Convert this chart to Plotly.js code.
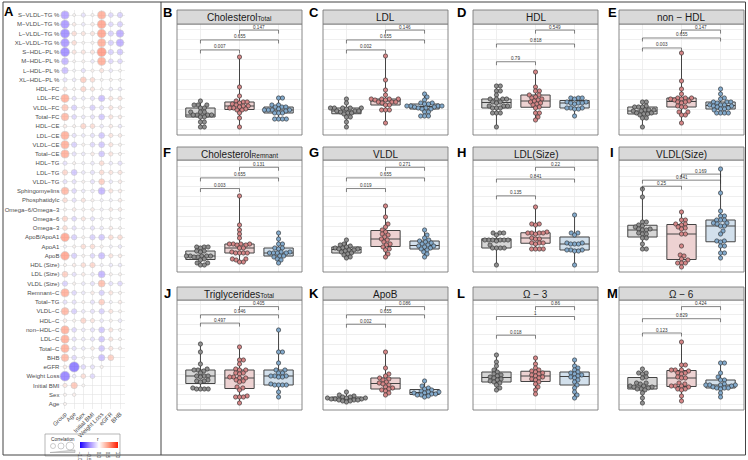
<!DOCTYPE html>
<html><head><meta charset="utf-8">
<script src="https://cdn.plot.ly/plotly-3.0.1.min.js"></script>
<style>body{margin:0;padding:0;background:#fff}#chart{width:748px;height:460px}</style>
</head><body><div id="chart"></div>
<script>
// ---------------- DATA ----------------
const rowLabels = ['S−VLDL−TG %','M−VLDL−TG %','L−VLDL−TG %','XL−VLDL−TG %','S−HDL−PL %','M−HDL−PL %','L−HDL−PL %','XL−HDL−PL %',
 'HDL−FC','LDL−FC','VLDL−FC','Total−FC','HDL−CE','LDL−CE','VLDL−CE','Total−CE','HDL−TG','LDL−TG','VLDL−TG','Sphingomyelins',
 'Phosphatidylc','Omega−6/Omega−3','Omega−6','Omega−3','ApoB/ApoA1','ApoA1','ApoB','HDL (Size)','LDL (Size)','VLDL (Size)',
 'Remnant−C','Total−TG','VLDL−C','HDL−C','non−HDL−C','LDL−C','Total−C','BHB','eGFR','Weight Loss','Initial BMI','Sex','Age'];
const colLabels = ['Group','Age','Sex','Initial BMI','Weight Loss','eGFR','BHB'];
const corrGroup = [-0.5,-0.55,-0.6,-0.55,-0.6,-0.4,-0.35,-0.15,0.15,0.5,0.35,0.45,0.1,0.5,0.5,0.5,-0.15,0.25,-0.15,0.45,0.2,0.05,0.25,0.2,0.55,-0.05,0.55,0.05,0.3,-0.25,0.5,-0.15,0.45,0.1,0.5,0.5,0.5,0.45,0.1,-0.65,0.15,0.05,0.05];
const corrAge = [0.03,0.1,0.2,0.2,0.15,0.03,-0.03,-0.1,0.05,-0.15,-0.25,-0.2,0.05,-0.15,-0.25,-0.15,0.05,-0.3,-0.15,-0.2,-0.15,0.1,-0.2,-0.15,-0.25,0.05,-0.25,0.1,-0.15,0.05,-0.2,-0.15,-0.25,0.05,-0.2,-0.15,-0.15,-0.2,-0.7,-0.1,0.35,0.08,null];
const corrSex = [-0.15,-0.1,0.15,0.03,0.15,0.05,-0.15,0.3,0.25,-0.1,0.05,-0.1,0.25,-0.1,0.05,-0.1,-0.05,-0.1,0.05,-0.1,0.15,0.05,0.15,-0.05,0.05,0.2,0.05,0.2,0.1,-0.1,-0.1,0.05,-0.1,0.25,-0.1,-0.1,-0.1,0.03,-0.2,0.2,0.03,null,null];
const corrBMI = [0.05,0.1,0.15,0.05,0.15,-0.1,0.05,0.2,0.15,-0.15,-0.25,-0.15,0.2,-0.15,-0.2,0.1,-0.1,-0.15,-0.15,-0.1,0.05,0.1,-0.15,-0.15,-0.25,0.2,-0.2,0.25,-0.1,-0.15,0.1,-0.15,-0.15,0.15,-0.15,-0.15,0.1,0.02,-0.15,-0.2,null,null,null];
const corrWL = [0.5,0.55,0.55,0.5,0.6,0.5,0.15,0.03,0.03,-0.35,-0.15,-0.3,-0.1,-0.3,-0.3,-0.3,0.2,0.2,0.3,-0.4,-0.05,-0.05,-0.05,-0.1,-0.3,0.05,-0.35,-0.05,-0.4,0.4,-0.25,0.3,-0.25,-0.1,-0.3,-0.3,-0.3,-0.35,0.05,null,null,null,null];
const corrEGFR = [-0.2,-0.2,-0.25,-0.25,-0.25,-0.2,-0.1,0.05,-0.1,0.15,0.15,0.15,0.1,0.15,0.15,0.15,-0.1,0.15,-0.1,0.15,-0.05,0.1,0.05,0.1,0.2,-0.05,0.15,-0.1,0.05,-0.15,0.15,-0.05,0.15,0.05,0.15,0.15,0.15,0.3,null,null,null,null,null];
const corrBHB = [-0.25,-0.25,-0.45,-0.45,-0.3,-0.2,0.03,0.03,-0.1,0.15,0.1,0.1,-0.1,0.1,0.05,0.05,-0.15,0.15,0.1,0.1,0.1,0.1,-0.03,0.03,0.2,-0.1,0.1,-0.1,0.05,-0.2,0.05,0.1,0.05,-0.1,0.05,0.05,0.05,null,null,null,null,null,null];

const groupNames = ['Control','Group 2','Group 3'];
// Box-panel values (arbitrary units, no axis labels in the original)
const B_gray = [34,30,30,30,27,27,23,23,23,20,20,20,20,18,18,13,13,8,8];
const B_pink = [78,48,39,34,33,33,32,31,30,29,29,28,27,27,26,25,25,22,17,8];
const B_blue = [37,37,30,30,28,28,28,26,25,25,25,25,24,22,22,22,16,16,16,16];
const C_gray = [36,32,27,27,27,27,27,26,24,24,24,23,22,22,21,18,18,13,8];
const C_pink = [79,55,45,40,36,36,36,36,35,35,33,33,33,32,30,30,25,25,25,12];
const C_blue = [41,38,35,32,32,31,31,29,29,29,29,28,28,27,27,26,26,23,23,19,19,19];
const D_gray = [49,49,44,44,40,36,36,36,36,33,33,32,29,29,29,27,27,27,22,22,22,8];
const D_pink = [63,48,44,44,40,40,38,37,36,35,34,33,32,31,30,28,27,22,22,18,15];
const D_blue = [37,37,37,36,33,33,32,32,32,31,27,27,27,26,26,19];
const E_gray = [33,33,29,28,28,28,25,25,25,24,24,22,22,21,21,20,17,17,8];
const E_pink = [82,54,46,41,37,37,37,36,36,35,34,33,33,32,29,28,28,23,23,20,20,12];
const E_blue = [46,41,37,36,33,33,33,32,30,30,30,29,29,28,27,26,26,25,22,22,22,22];
const F_gray = [25,25,25,24,21,21,20,16,16,16,16,16,15,15,13,12,9,9,7,7];
const F_pink = [76,47,42,38,34,28,28,28,28,27,27,24,24,20,19,19,19,19,13,13,12,10,10];
const F_blue = [39,33,28,28,24,24,23,20,20,19,19,19,19,16,16,15,13,12,9];
const G_gray = [32,28,27,26,25,24,24,23,23,22,22,21,20,19,18,17,15,14];
const G_pink = [66,55,48,45,42,40,38,37,35,33,32,30,28,27,25,23,22,18,15];
const G_blue = [42,37,34,32,31,30,29,28,27,26,26,25,24,23,22,20,18,15];
const H_gray = [39,39,39,37,32,32,32,32,32,32,31,27,24,24,24,24,7];
const H_pink = [65,48,48,47,40,39,39,39,39,38,34,33,33,29,29,29,28,23,23,23,23];
const H_blue = [57,39,39,37,29,29,28,28,28,22,22,22,21,21,7];
const I_gray = [83,75,50,50,47,46,45,43,43,42,42,39,38,38,34,34,28,23,23];
const I_pink = [60,52,52,48,48,47,45,44,43,38,38,26,17,16,13,12,9,9,9,5];
const I_blue = [103,79,61,56,56,52,52,52,49,49,48,46,46,41,38,31,31,30,26,26,19,19,14];
const J_gray = [66,58,46,41,40,40,39,37,34,34,34,33,30,29,29,28,22,21,21,21,21];
const J_pink = [63,50,50,46,41,40,40,37,37,36,33,33,32,32,30,29,28,23,22,20,14,13,13,13,7];
const J_blue = [80,58,58,47,40,40,37,37,34,34,34,33,33,26,25,25,25,25,18,13];
const K_gray = [18,15,14,13,13,12,12,12,11,11,11,10,10,10,9,9,8];
const K_pink = [58,42,36,34,32,31,30,28,27,26,25,23,22,21,20,19,17,15];
const K_blue = [29,24,22,21,20,19,18,18,17,17,16,16,15,15,14,13];
const L_gray = [55,48,44,40,38,36,35,34,33,32,31,30,29,28,27,25,22,20];
const L_pink = [52,46,42,40,39,38,37,36,35,34,33,32,31,30,28,26,23,20,16];
const L_blue = [50,44,42,40,38,37,36,35,34,33,32,30,28,25,22,18,15,12];
const M_gray = [41,37,37,36,33,32,27,27,26,24,24,23,23,22,21,21,20,17,12,7];
const M_pink = [68,45,45,40,40,40,39,37,37,36,33,32,32,27,26,24,24,24,23,21,21,20,14,9];
const M_blue = [47,47,37,33,30,30,26,25,25,25,25,24,23,22,22,22,21,17,13];

const panelTitles = ['Cholesterol<span style="font-size:6.5px">Total</span>','LDL','HDL','non − HDL',
  'Cholesterol<span style="font-size:6.5px">Remnant</span>','VLDL','LDL(Size)','VLDL(Size)',
  'Triglycerides<span style="font-size:6.5px">Total</span>','ApoB','Ω − 3','Ω − 6'];
const panelLetters = ['B','C','D','E','F','G','H','I','J','K','L','M'];
// p-values: [1 vs 2, 1 vs 3, 2 vs 3]
const pB = ['0.007','0.655','0.147'];
const pC = ['0.002','0.655','0.146'];
const pD = ['0.79','0.818','0.549'];
const pE = ['0.003','0.655','0.147'];
const pF = ['0.003','0.655','0.131'];
const pG = ['0.019','0.655','0.271'];
const pH = ['0.135','0.841','0.22'];
const pI = ['0.25','0.841','0.169'];
const pJ = ['0.497','0.946','0.405'];
const pK = ['0.002','0.655','0.086'];
const pL = ['0.018','1','0.86'];
const pM = ['0.123','0.829','0.424'];

// ---------------- LAYOUT / STYLE ----------------
const W = 748, H = 460;
const PX = v => v / W, PY = v => 1 - v / H;
const FONT = '"Liberation Sans", Arial, Helvetica, sans-serif';
const panelData = [[B_gray,B_pink,B_blue],[C_gray,C_pink,C_blue],[D_gray,D_pink,D_blue],[E_gray,E_pink,E_blue],
  [F_gray,F_pink,F_blue],[G_gray,G_pink,G_blue],[H_gray,H_pink,H_blue],[I_gray,I_pink,I_blue],
  [J_gray,J_pink,J_blue],[K_gray,K_pink,K_blue],[L_gray,L_pink,L_blue],[M_gray,M_pink,M_blue]];
const panelP = [pB,pC,pD,pE,pF,pG,pH,pI,pJ,pK,pL,pM];
const bracketFrac = [[.766,.856,.945],[.766,.856,.945],[.66,.82,.945],[.784,.874,.945],
  [.745,.84,.935],[.745,.84,.935],[.68,.83,.935],[.766,.82,.874],
  [.79,.865,.94],[.78,.865,.94],[.68,.85,.94],[.70,.83,.94]];
const colX = [177,323,473,619], colW = 125;
const rowsG = [{st:10,top:24,bot:135},{st:147,top:160,bot:272},{st:287,top:300,bot:410}];
const letterX = [167,314,461,612], letterY = [12.5,152.5,293];
const ptFill = ['#8f8f8f','#d48586','#82a9cb'];
const boxFill = ['#d6d6d6','#edd2d2','#d2e0ec'];

function swarm(vals, d, pxPerUnit) {
  const idx = vals.map((v,i)=>i).sort((a,b)=>vals[a]-vals[b]);
  const placed = [], out = new Array(vals.length);
  for (const i of idx) {
    const y = vals[i];
    const c = [0];
    for (const p of placed) {
      const dy = Math.abs(p.y - y);
      if (dy < d) { const dx = Math.sqrt(d*d - dy*dy); c.push(p.x + dx, p.x - dx); }
    }
    c.sort((a,b)=>Math.abs(a)-Math.abs(b) || b-a);
    let ch = 0;
    for (const x of c) { if (placed.every(p => Math.hypot(p.x-x, p.y-y) >= d - 1e-6)) { ch = x; break; } }
    placed.push({x:ch, y}); out[i] = ch / pxPerUnit;
  }
  return out;
}

const traces = [];
const shapes = [];
const annotations = [];
const layout = {
  width: W, height: H, margin: {l:0,r:0,t:0,b:0},
  paper_bgcolor: '#ffffff', plot_bgcolor: '#ffffff',
  showlegend: false, boxmode: 'overlay',
  font: {family: FONT, color: '#333'},
};

// ---- Panel A: correlation bubble matrix ----
const corrCols = [corrGroup, corrAge, corrSex, corrBMI, corrWL, corrEGFR, corrBHB];
const ax = [], ay = [], ar = [], as = [];
corrCols.forEach((col, ci) => col.forEach((r, ri) => {
  if (r === null) return;
  ax.push(ci); ay.push(ri); ar.push(r); as.push(2.6 + 11 * Math.abs(r));
}));
const cscale = [[0,'#1a00ff'],[0.25,'#a08aff'],[0.5,'#ffffff'],[0.75,'#ff9a80'],[1,'#ff1a00']];
traces.push({
  type: 'scatter', mode: 'markers', x: ax, y: ay, xaxis: 'x', yaxis: 'y', hoverinfo: 'skip', cliponaxis: false,
  marker: {size: as, color: ar, cmin: -1, cmax: 1, colorscale: cscale,
    line: {color: '#b8b8b8', width: 0.6}, showscale: true,
    colorbar: {orientation: 'h', x: PX(99), xanchor: 'center', y: PY(442), yanchor: 'top',
      len: 38, lenmode: 'pixels', thickness: 6, thicknessmode: 'pixels', xpad: 0, ypad: 0,
      outlinewidth: 0, tickvals: [-1,-0.5,0,0.5,1], ticktext: ['−1.0','−0.5','0.0','0.5','1.0'],
      tickfont: {size: 4.5, color: '#333', family: FONT}, ticks: ''}}
});
layout.xaxis = {domain: [PX(60.4), PX(124.6)], range: [-0.5, 6.5], tickvals: [0,1,2,3,4,5,6], ticktext: colLabels,
  tickangle: -45, tickfont: {size: 6, color: '#4d4d4d', family: FONT}, showgrid: true, gridcolor: '#e3e3e3', gridwidth: 0.6,
  zeroline: false, showline: false, ticks: '', fixedrange: true, anchor: 'y'};
layout.yaxis = {domain: [PY(408.6), PY(10.4)], range: [42.5, -0.5], tickvals: rowLabels.map((_,i)=>i), ticktext: rowLabels,
  tickfont: {size: 6, color: '#4d4d4d', family: FONT}, showgrid: true, gridcolor: '#e3e3e3', gridwidth: 0.6,
  zeroline: false, showline: false, ticks: '', fixedrange: true, anchor: 'x'};
annotations.push({xref:'paper', yref:'paper', x: PX(9), y: PY(12), text: '<b>A</b>', showarrow: false,
  font: {size: 13, color: '#000', family: FONT}, xanchor: 'center', yanchor: 'middle'});
// legend of panel A
shapes.push({type:'rect', xref:'paper', yref:'paper', x0: PX(45), x1: PX(120), y0: PY(434), y1: PY(456),
  line: {color: '#999', width: 0.7}, fillcolor: 'rgba(0,0,0,0)'});
annotations.push({xref:'paper', yref:'paper', x: PX(63), y: PY(439), text: 'Correlation', showarrow: false,
  font: {size: 4.8, color: '#333', family: FONT}, xanchor: 'center', yanchor: 'middle'});
annotations.push({xref:'paper', yref:'paper', x: PX(98), y: PY(438.5), text: 'r', showarrow: false,
  font: {size: 5, color: '#333', family: FONT}, xanchor: 'center', yanchor: 'middle'});
[[53,2.5],[61,3],[70,4]].forEach(([cx, r]) => shapes.push({type:'circle', xref:'paper', yref:'paper',
  x0: PX(cx-r), x1: PX(cx+r), y0: PY(446+r), y1: PY(446-r), line: {color:'#aaa', width: 0.6}, fillcolor: '#fff'}));
shapes.push({type:'path', xref:'paper', yref:'paper',
  path: `M ${PX(50)} ${PY(452.5)} L ${PX(75)} ${PY(452.5)} L ${PX(75)} ${PY(450)} Z`,
  line: {color: '#999', width: 0.5}, fillcolor: '#d9d9d9'});

// ---- Box panels ----
panelData.forEach((groups, k) => {
  const n = k + 2;
  const ci = k % 4, ri = Math.floor(k / 4);
  const g = rowsG[ri];
  const x0 = colX[ci], x1 = colX[ci] + colW;
  const h = g.bot - g.top;
  const ppu = colW / 3.2;
  layout['xaxis' + n] = {domain: [PX(x0), PX(x1)], range: [-0.6, 2.6], anchor: 'y' + n, tickvals: [0,1,2],
    showticklabels: false, ticks: '', showgrid: true, gridcolor: '#ebebeb', gridwidth: 0.8, zeroline: false,
    showline: false, fixedrange: true};
  layout['yaxis' + n] = {domain: [PY(g.bot), PY(g.top)], range: [0, h], anchor: 'x' + n, tick0: 6, dtick: 10,
    showticklabels: false, ticks: '', showgrid: true, gridcolor: '#ebebeb', gridwidth: 0.8, zeroline: false,
    showline: false, fixedrange: true};
  groups.forEach((vals, gi) => {
    traces.push({type: 'box', y: vals, x0: gi, width: 0.75, xaxis: 'x' + n, yaxis: 'y' + n, name: groupNames[gi],
      fillcolor: boxFill[gi], line: {color: '#444', width: 1}, boxpoints: false, whiskerwidth: 0, hoverinfo: 'skip'});
  });
  groups.forEach((vals, gi) => {
    const off = swarm(vals, 3.9, ppu);
    traces.push({type: 'scatter', mode: 'markers', x: off.map(o => o + gi), y: vals, xaxis: 'x' + n, yaxis: 'y' + n,
      cliponaxis: false, hoverinfo: 'skip',
      marker: {size: 4.3, color: ptFill[gi], line: {color: '#2b2b2b', width: 0.6}}});
  });
  // panel border & strip
  shapes.push({type: 'rect', xref: 'paper', yref: 'paper', x0: PX(x0), x1: PX(x1), y0: PY(g.bot), y1: PY(g.top),
    line: {color: '#7a7a7a', width: 0.9}, fillcolor: 'rgba(0,0,0,0)'});
  shapes.push({type: 'rect', xref: 'paper', yref: 'paper', x0: PX(x0), x1: PX(x1), y0: PY(g.top), y1: PY(g.st),
    line: {color: '#7a7a7a', width: 0.9}, fillcolor: '#d9d9d9'});
  annotations.push({xref: 'paper', yref: 'paper', x: PX((x0 + x1) / 2), y: PY((g.st + g.top) / 2 + 0.5),
    text: panelTitles[k], showarrow: false, font: {size: 10, color: '#1a1a1a', family: FONT},
    xanchor: 'center', yanchor: 'middle', borderpad: 0});
  annotations.push({xref: 'paper', yref: 'paper', x: PX(letterX[ci]), y: PY(letterY[ri]), text: '<b>' + panelLetters[k] + '</b>',
    showarrow: false, font: {size: 13, color: '#000', family: FONT}, xanchor: 'center', yanchor: 'middle'});
  // brackets
  const pairs = [[0,1],[0,2],[1,2]];
  const tick = 3.5 / h;
  pairs.forEach(([a, b], pi) => {
    const f = bracketFrac[k][pi];
    shapes.push({type: 'path', xref: 'x' + n, yref: 'y' + n + ' domain',
      path: `M ${a} ${f - tick} L ${a} ${f} L ${b} ${f} L ${b} ${f - tick}`,
      line: {color: '#333', width: 0.6}});
    annotations.push({xref: 'x' + n, yref: 'y' + n + ' domain', x: (a + b) / 2, y: f, yanchor: 'bottom',
      xanchor: 'center', text: panelP[k][pi], showarrow: false, borderpad: 0, yshift: -0.5,
      font: {size: 4.6, color: '#333', family: FONT}});
  });
});

// outer frame and separator
shapes.push({type: 'rect', xref: 'paper', yref: 'paper', x0: PX(3), x1: PX(745.5), y0: PY(455), y1: PY(2),
  line: {color: '#444', width: 1}, fillcolor: 'rgba(0,0,0,0)'});
shapes.push({type: 'line', xref: 'paper', yref: 'paper', x0: PX(161), x1: PX(161), y0: PY(455), y1: PY(2),
  line: {color: '#444', width: 1}});

layout.shapes = shapes;
layout.annotations = annotations;
Plotly.newPlot('chart', traces, layout, {displayModeBar: false, staticPlot: true});
</script></body></html>
